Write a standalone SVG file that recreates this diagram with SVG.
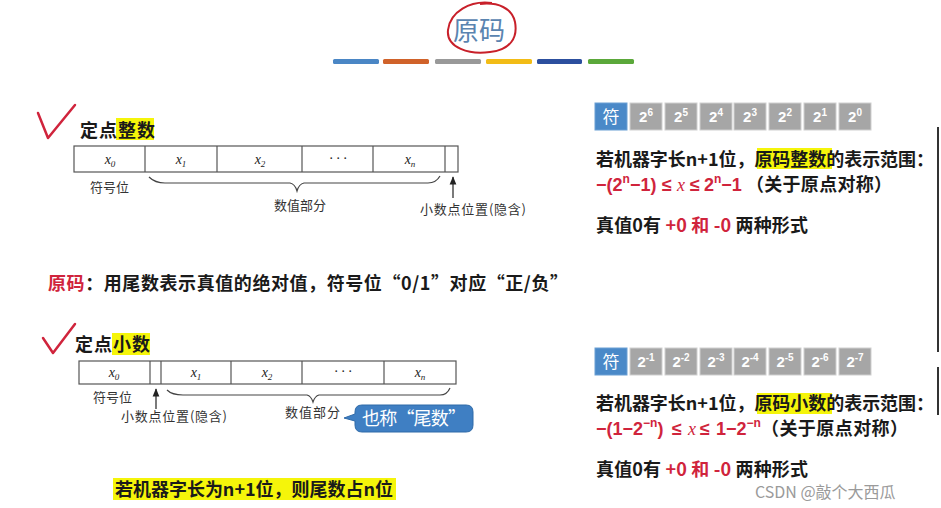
<svg xmlns="http://www.w3.org/2000/svg" width="941" height="508" viewBox="0 0 941 508">
<defs>
<marker id="ah" viewBox="0 0 10 10" refX="9" refY="5" markerWidth="7" markerHeight="7" orient="auto"><path d="M0,1 L10,5 L0,9 Z" fill="#222"/></marker>
<style>
.cn{font-family:"Noto Sans CJK SC","Noto Sans",sans-serif;}
.main{font-family:"Noto Sans CJK SC",sans-serif;font-size:18px;font-weight:bold;fill:#1a1a1a;}
.small{font-family:"Noto Sans CJK SC",sans-serif;font-size:13px;fill:#333;}
.red{fill:#d0243c;}
.cell{fill:none;stroke:#555;stroke-width:1.2;}
.xv{font-family:"Liberation Serif",serif;font-style:italic;font-size:14px;fill:#222;text-anchor:middle;}
.sub{font-size:9px;}
.hl{fill:#f5f50a;}
.g{fill:#a6a6a6;stroke:#cfcfcf;stroke-width:1;}
.b{fill:#4a89c8;stroke:#6a9fd4;stroke-width:1;}
.ct{font-family:"Liberation Sans",sans-serif;font-weight:bold;font-size:15px;fill:#fff;text-anchor:middle;}
.brace{fill:none;stroke:#444;stroke-width:1.2;}
.chk{fill:none;stroke:#d0243c;stroke-width:2.5;stroke-linecap:round;stroke-linejoin:round;}
.fm{font-family:"Liberation Sans",sans-serif;font-weight:bold;font-size:18px;fill:#d0243c;}
.it{font-style:italic;font-family:"Liberation Serif",serif;font-weight:normal;}
</style>
</defs>
<rect width="941" height="508" fill="#fff"/>

<g id="title">
<text x="479" y="40" class="cn" font-size="26" fill="#5a84b0" text-anchor="middle">原码</text>
<path d="M492,3 C470,0 450,12 448,30 C446,48 470,55 490,52 C510,50 518,38 515,22 C512,8 498,2 480,4" fill="none" stroke="#c8202a" stroke-width="2"/>
<rect x="333" y="59" width="46" height="5" rx="1.5" fill="#4a86c5"/>
<rect x="383" y="59" width="46" height="5" rx="1.5" fill="#d0622a"/>
<rect x="435" y="59" width="46" height="5" rx="1.5" fill="#999999"/>
<rect x="486" y="59" width="46" height="5" rx="1.5" fill="#f2bc16"/>
<rect x="537" y="59" width="45" height="5" rx="1.5" fill="#2c4f9e"/>
<rect x="588" y="59" width="46" height="5" rx="1.5" fill="#5ba83a"/>
</g>

<g id="int-section">
<path class="chk" d="M38,113 L48,138 L75,105"/>
<rect class="hl" x="116" y="118" width="38" height="22"/>
<text x="80" y="137" class="main" font-weight="normal" font-size="19" textLength="75">定点整数</text>
<g id="int-table">
<rect class="cell" x="74" y="146" width="384" height="26"/>
<line class="cell" x1="145" y1="146" x2="145" y2="172"/>
<line class="cell" x1="217" y1="146" x2="217" y2="172"/>
<line class="cell" x1="302" y1="146" x2="302" y2="172"/>
<line class="cell" x1="373" y1="146" x2="373" y2="172"/>
<line class="cell" x1="445" y1="146" x2="445" y2="172"/>
<text class="xv" x="110" y="164">x<tspan class="sub" dy="3">0</tspan></text>
<text class="xv" x="181" y="164">x<tspan class="sub" dy="3">1</tspan></text>
<text class="xv" x="260" y="164">x<tspan class="sub" dy="3">2</tspan></text>
<text class="xv" x="338" y="163">· · ·</text>
<text class="xv" x="410" y="164">x<tspan class="sub" dy="3">n</tspan></text>
</g>
<text x="90" y="192" class="small" font-size="14">符号位</text>
<path class="brace" d="M149,177 Q155,183 165,183 L290,183 Q295,184 297,191 Q299,184 304,183 L428,183 Q436,183 440,176"/>
<text x="300" y="210" class="small" font-size="14" text-anchor="middle">数值部分</text>
<line x1="453" y1="198" x2="453" y2="177" stroke="#222" stroke-width="1.2" marker-end="url(#ah)"/>
<text x="420" y="214" class="small" font-size="13.5" textLength="106">小数点位置(隐含)</text>
</g>

<g id="definition">
<text x="48" y="290" class="main" font-size="17.5" textLength="520"><tspan class="red">原码</tspan>：用尾数表示真值的绝对值，符号位“0/1”对应“正/负”</text>
</g>

<g id="frac-section">
<path class="chk" d="M43,338 L53,353 L75,324"/>
<rect class="hl" x="112" y="333" width="38" height="22"/>
<text x="75" y="351" class="main" font-weight="normal" font-size="19" textLength="75">定点小数</text>
<g id="frac-table">
<rect class="cell" x="79" y="361" width="377" height="23"/>
<line class="cell" x1="150" y1="361" x2="150" y2="384"/>
<line class="cell" x1="161" y1="361" x2="161" y2="384"/>
<line class="cell" x1="231" y1="361" x2="231" y2="384"/>
<line class="cell" x1="302" y1="361" x2="302" y2="384"/>
<line class="cell" x1="384" y1="361" x2="384" y2="384"/>
<text class="xv" x="114" y="377">x<tspan class="sub" dy="3">0</tspan></text>
<text class="xv" x="196" y="377">x<tspan class="sub" dy="3">1</tspan></text>
<text class="xv" x="267" y="377">x<tspan class="sub" dy="3">2</tspan></text>
<text class="xv" x="343" y="376">· · ·</text>
<text class="xv" x="420" y="377">x<tspan class="sub" dy="3">n</tspan></text>
</g>
<text x="93" y="402" class="small" font-size="14">符号位</text>
<line x1="156" y1="409" x2="156" y2="389" stroke="#222" stroke-width="1.2" marker-end="url(#ah)"/>
<text x="121" y="421" class="small" font-size="13.5" textLength="106">小数点位置(隐含)</text>
<path class="brace" d="M167,390 Q172,395 183,395 L307,395 Q311,396 313,402 Q315,396 319,395 L440,395 Q447,395 450,388"/>
<text x="285" y="417" class="small" font-size="13.5" textLength="55">数值部分</text>
</g>

<g id="callout">
<path d="M362,405 H466 Q473,405 473,412 V425 Q473,432 466,432 H362 Q355,432 355,425 V421 L344,418 L355,414 V412 Q355,405 362,405 Z" fill="#3f7fc3" stroke="#2f6aa8" stroke-width="1"/>
<text x="414" y="425" class="cn" font-size="18" fill="#fff" text-anchor="middle" textLength="104">也称“尾数”</text>
</g>

<g id="note">
<rect class="hl" x="113" y="478" width="283" height="22"/>
<text x="115" y="496" class="main" font-size="17.5" textLength="278">若机器字长为n+1位，则尾数占n位</text>
</g>

<g id="int-range">
<g id="int-cells">
<rect class="b" x="595" y="103" width="32" height="27"/>
<rect class="g" x="630" y="103" width="32" height="27"/>
<rect class="g" x="665" y="103" width="32" height="27"/>
<rect class="g" x="700" y="103" width="32" height="27"/>
<rect class="g" x="734" y="103" width="32" height="27"/>
<rect class="g" x="769" y="103" width="32" height="27"/>
<rect class="g" x="804" y="103" width="32" height="27"/>
<rect class="g" x="839" y="103" width="32" height="27"/>
<text x="611" y="123" class="cn" font-size="17" fill="#fff" text-anchor="middle">符</text>
<text x="646" y="122" class="ct">2<tspan font-size="10" dy="-6">6</tspan></text>
<text x="681" y="122" class="ct">2<tspan font-size="10" dy="-6">5</tspan></text>
<text x="716" y="122" class="ct">2<tspan font-size="10" dy="-6">4</tspan></text>
<text x="750" y="122" class="ct">2<tspan font-size="10" dy="-6">3</tspan></text>
<text x="785" y="122" class="ct">2<tspan font-size="10" dy="-6">2</tspan></text>
<text x="820" y="122" class="ct">2<tspan font-size="10" dy="-6">1</tspan></text>
<text x="855" y="122" class="ct">2<tspan font-size="10" dy="-6">0</tspan></text>
</g>
<rect class="hl" x="757" y="148" width="75" height="21"/>
<text x="596" y="166" class="main" textLength="338">若机器字长n+1位，原码整数的表示范围：</text>
<text x="596" y="191" class="fm">−(2<tspan font-size="12" dy="-8">n</tspan><tspan dy="8">−1)</tspan><tspan x="662">≤</tspan><tspan x="677" class="it">x</tspan><tspan x="690">≤</tspan><tspan x="704">2</tspan><tspan font-size="12" dy="-8">n</tspan><tspan dy="8">−1</tspan></text>
<text x="746" y="191" class="main" textLength="146">（关于原点对称）</text>
<text x="596" y="232" class="main" textLength="212">真值0有 <tspan class="red">+0 和 -0</tspan> 两种形式</text>
</g>

<g id="frac-range">
<g id="frac-cells">
<rect class="b" x="595" y="348" width="32" height="27"/>
<rect class="g" x="630" y="348" width="32" height="27"/>
<rect class="g" x="665" y="348" width="32" height="27"/>
<rect class="g" x="700" y="348" width="32" height="27"/>
<rect class="g" x="734" y="348" width="32" height="27"/>
<rect class="g" x="769" y="348" width="32" height="27"/>
<rect class="g" x="804" y="348" width="32" height="27"/>
<rect class="g" x="839" y="348" width="32" height="27"/>
<text x="611" y="368" class="cn" font-size="17" fill="#fff" text-anchor="middle">符</text>
<text x="646" y="367" class="ct">2<tspan font-size="10" dy="-6">-1</tspan></text>
<text x="681" y="367" class="ct">2<tspan font-size="10" dy="-6">-2</tspan></text>
<text x="716" y="367" class="ct">2<tspan font-size="10" dy="-6">-3</tspan></text>
<text x="750" y="367" class="ct">2<tspan font-size="10" dy="-6">-4</tspan></text>
<text x="785" y="367" class="ct">2<tspan font-size="10" dy="-6">-5</tspan></text>
<text x="820" y="367" class="ct">2<tspan font-size="10" dy="-6">-6</tspan></text>
<text x="855" y="367" class="ct">2<tspan font-size="10" dy="-6">-7</tspan></text>
</g>
<rect class="hl" x="757" y="393" width="75" height="21"/>
<text x="596" y="410" class="main" textLength="338">若机器字长n+1位，原码小数的表示范围：</text>
<text x="596" y="435" class="fm">−(1−2<tspan font-size="12" dy="-8">−n</tspan><tspan dy="8">)</tspan><tspan x="672">≤</tspan><tspan x="688" class="it">x</tspan><tspan x="700">≤</tspan><tspan x="716">1−2</tspan><tspan font-size="12" dy="-8">−n</tspan></text>
<text x="761" y="435" class="main" textLength="147">（关于原点对称）</text>
<text x="596" y="476" class="main" textLength="212">真值0有 <tspan class="red">+0 和 -0</tspan> 两种形式</text>
</g>

<g id="edge-lines">
<line x1="938" y1="127" x2="938" y2="352" stroke="#333" stroke-width="2"/>
<line x1="938" y1="367" x2="938" y2="415" stroke="#333" stroke-width="2"/>
</g>

<g id="watermark">
<text x="755" y="498" class="cn" font-size="16" fill="#9a9a9a">CSDN @敲个大西瓜</text>
</g>
</svg>
